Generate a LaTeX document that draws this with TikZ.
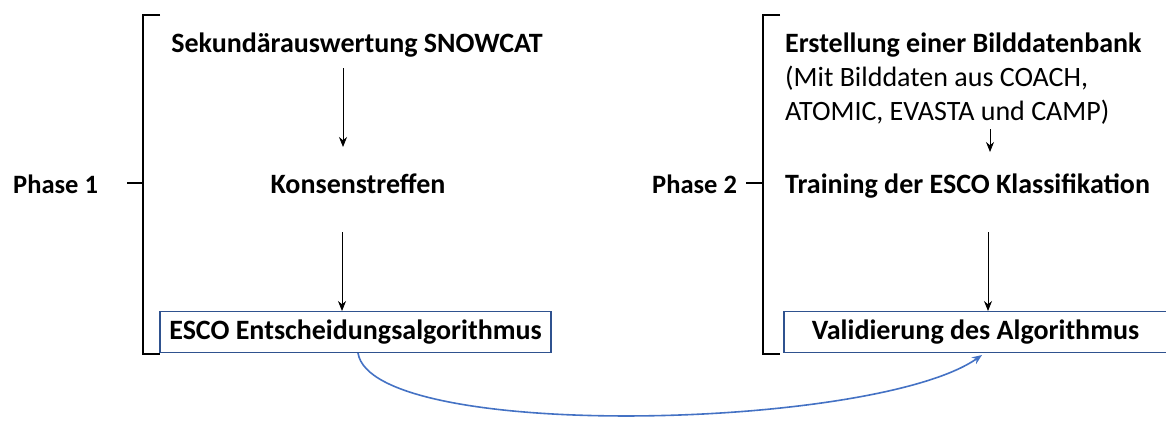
\documentclass[tikz,border=0pt]{standalone}
\usepackage{fontspec}
\setmainfont{Carlito}
\usetikzlibrary{arrows.meta}
\definecolor{boxblue}{HTML}{2F528F}
\definecolor{curveblue}{HTML}{4472C4}
\begin{document}
\begin{tikzpicture}[x=1pt,y=-1pt,
  lbl/.style={font=\fontsize{28}{33}\selectfont\bfseries, inner sep=0pt},
  lblr/.style={font=\fontsize{28}{33}\selectfont, inner sep=0pt},
  phase/.style={font=\fontsize{26.5}{32}\selectfont\bfseries, inner sep=0pt},
  resbox/.style={draw=boxblue, line width=1.8pt, minimum height=41pt, inner sep=0pt, font=\fontsize{28}{33}\selectfont\bfseries},
  brk/.style={line width=1.6pt, black},
  flow/.style={-{Stealth[length=10pt,width=8pt]}, line width=0.9pt, black}]
\useasboundingbox (0,0) rectangle (1166,421);
% Phase 1
\node[phase, anchor=west] (p1) at (13,184) {Phase 1};
\draw[brk] (160,15) -- (143,15) -- (143,354) -- (160,354);
\draw[brk] (143,183) -- (127,183);
\node[lbl, anchor=base] (s1) at (357,52) {Sekundärauswertung SNOWCAT};
\node[lbl, anchor=base] (k1) at (358,193) {Konsenstreffen};
\node[resbox, minimum width=391pt] (e1) at (355.5,332) {ESCO Entscheidungsalgorithmus};
\coordinate (a1s) at (343,68);
\coordinate (a1e) at (343,147);
\coordinate (a2s) at (342,232);
\coordinate (a2e) at (342,311);
\draw[flow] (a1s) -- (a1e);
\draw[flow] (a2s) -- (a2e);
% Phase 2
\node[phase, anchor=west] (p2) at (652,184) {Phase 2};
\draw[brk] (780,15) -- (763,15) -- (763,354) -- (780,354);
\draw[brk] (763,183) -- (746,183);
\node[lbl, anchor=base west] (b1) at (785,52) {Erstellung einer Bilddatenbank};
\node[lblr, anchor=base west] (b2) at (785,86) {(Mit Bilddaten aus COACH,};
\node[lblr, anchor=base west] (b3) at (785,120) {ATOMIC, EVASTA und CAMP)};
\node[lbl, anchor=base west] (t2) at (785,193) {Training der ESCO Klassifikation};
\node[resbox, minimum width=383pt] (v2) at (975.5,332) {Validierung des Algorithmus};
\coordinate (a3s) at (990,129);
\coordinate (a3e) at (990,152);
\coordinate (a4s) at (988,232);
\coordinate (a4e) at (988,311);
\draw[flow] (a3s) -- (a3e);
\draw[flow] (a4s) -- (a4e);
% curve
\coordinate (cs) at (358,353);
\coordinate (ce) at (982,355);
\draw[curveblue, line width=1.6pt, -{Stealth[length=10pt,width=8pt]}] (cs) .. controls (372,442) and (875,430) .. (ce);
\end{tikzpicture}
\end{document}
